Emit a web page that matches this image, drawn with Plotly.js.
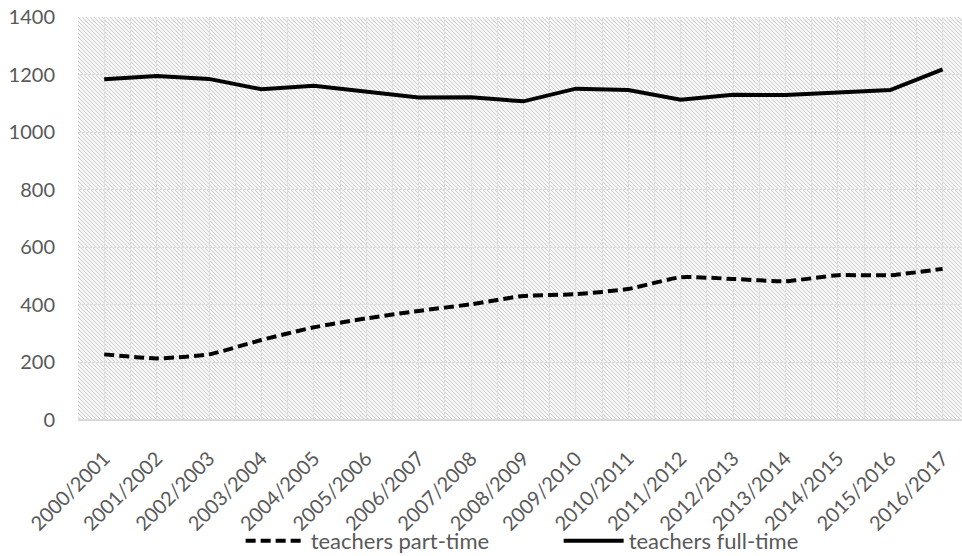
<!DOCTYPE html>
<html>
<head>
<meta charset="utf-8">
<script src="https://cdn.plot.ly/plotly-3.0.1.min.js"></script>
<style>
  html, body { margin: 0; padding: 0; background: #ffffff; }
  #wrap { position: relative; width: 962px; height: 556px; }
  #hatch {
    position: absolute; left: 78px; top: 17px; width: 884px; height: 403px;
    background-color: #ffffff;
    background-image: url("data:image/svg+xml,%3Csvg xmlns='http://www.w3.org/2000/svg' width='4' height='4'%3E%3Cpath d='M-1,-1 L5,5 M-1,3 L1,5 M3,-1 L5,1' stroke='%23cfcfcf' stroke-width='1.1'/%3E%3C/svg%3E");
    background-size: 4px 4px;
    background-repeat: repeat;
    z-index: 0;
  }
  #chart { position: absolute; left: 0; top: 0; width: 962px; height: 556px; z-index: 1; }
</style>
</head>
<body>
<div id="wrap">
  <div id="hatch"></div>
  <div id="chart"></div>
</div>
<script>
const categories = ["2000/2001","2001/2002","2002/2003","2003/2004","2004/2005","2005/2006","2006/2007","2007/2008","2008/2009","2009/2010","2010/2011","2011/2012","2012/2013","2013/2014","2014/2015","2015/2016","2016/2017"];
const partTime = [228, 214, 228, 278, 322, 353, 379, 402, 431, 437, 455, 496, 490, 482, 503, 503, 525];
const fullTime = [1184, 1195, 1185, 1149, 1161, 1141, 1120, 1121, 1107, 1151, 1146, 1113, 1130, 1129, 1136, 1146, 1218];
const yTicks = [0, 200, 400, 600, 800, 1000, 1200, 1400];

const idx = categories.map((_, i) => i);
const FONT = "Lato, 'Open Sans', sans-serif";
const GREY = "#595959";

const traces = [
  {
    x: idx, y: partTime, type: "scatter", mode: "lines",
    name: "teachers part-time",
    line: { color: "#000000", width: 4, dash: "10px,5px", shape: "spline", smoothing: 0.5 }
  },
  {
    x: idx, y: fullTime, type: "scatter", mode: "lines",
    name: "teachers full-time",
    line: { color: "#000000", width: 4 }
  }
];

const layout = {
  width: 962, height: 556,
  margin: { l: 78, r: 0, t: 17, b: 136, pad: 0 },
  paper_bgcolor: "rgba(0,0,0,0)",
  plot_bgcolor: "rgba(0,0,0,0)",
  font: { family: FONT, size: 20, color: GREY },
  showlegend: true,
  legend: {
    orientation: "h",
    xref: "paper", x: 0.184, xanchor: "left",
    yref: "container", y: 0.027, yanchor: "middle",
    bgcolor: "rgba(0,0,0,0)",
    font: { family: FONT, size: 22, color: GREY },
    itemwidth: 60,
    entrywidth: 243, entrywidthmode: "pixels"
  },
  xaxis: {
    type: "linear",
    range: [-0.5, 16.37],
    tickvals: idx,
    ticktext: categories,
    tickangle: -45,
    tickfont: { family: FONT, size: 20, color: GREY },
    ticks: "outside", ticklen: 18, tickcolor: "rgba(0,0,0,0)",
    showgrid: true, gridcolor: "#e0e0e0", gridwidth: 1,
    minor: { tick0: -0.5, dtick: 0.5, showgrid: true, gridcolor: "#e0e0e0", gridwidth: 1 },
    zeroline: false, showline: false,
    fixedrange: true
  },
  yaxis: {
    range: [0, 1400],
    tickvals: yTicks,
    tickfont: { family: FONT, size: 20, color: GREY },
    ticks: "",
    ticklabelstandoff: 22,
    showgrid: true, gridcolor: "#e0e0e0", gridwidth: 1,
    zeroline: true, zerolinecolor: "#d9d9d9", zerolinewidth: 1.5,
    showline: false,
    fixedrange: true
  }
};

Plotly.newPlot("chart", traces, layout, { staticPlot: true, displayModeBar: false });
</script>
</body>
</html>
